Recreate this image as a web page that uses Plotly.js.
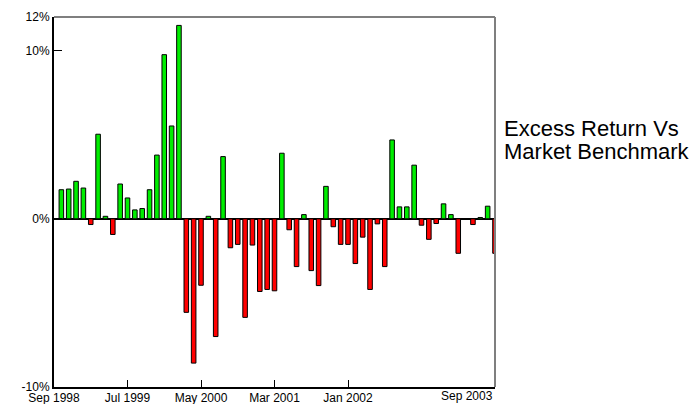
<!DOCTYPE html>
<html>
<head>
<meta charset="utf-8">
<script src="https://cdn.plot.ly/plotly-3.0.1.min.js"></script>
<style>html,body{margin:0;padding:0;background:#fff;}#chart{width:692px;height:404px;}</style>
</head>
<body>
<div id="chart"></div>
<script>
// Monthly excess return (%) — Sep 1998 .. Aug 2003
const excessReturn = [
  1.73, 1.77, 2.23, 1.83, -0.34, 5.03, 0.15, -0.93, 2.07, 1.24,
  0.53, 0.61, 1.73, 3.79, 9.76, 5.52, 11.5, -5.56, -8.58, -3.95,
  0.15, -7.0, 3.7, -1.72, -1.52, -5.86, -1.56, -4.32, -4.2, -4.28,
  3.9, -0.65, -2.84, 0.25, -3.08, -3.97, 1.93, -0.47, -1.52, -1.52,
  -2.66, -1.09, -4.2, -0.3, -2.84, 4.69, 0.71, 0.71, 3.19, -0.38,
  -1.22, -0.28, 0.89, 0.25, -2.05, 0, -0.34, 0.08, 0.75, -2.05
];
const tickMonths = [0, 10, 20, 30, 40, 60];
const tickLabels = ['Sep 1998', 'Jul 1999', 'May 2000', 'Mar 2001', 'Jan 2002', 'Sep 2003'];
const yTickVals = [-10, 0, 10, 12];
const yTickLabels = ['-10%', '0%', '10%', '12%'];
const titleLines = ['Excess Return Vs', 'Market Benchmark'];

const xs = excessReturn.map((v, i) => i + 1);
const colors = excessReturn.map(v => v >= 0 ? '#00ee00' : '#ff0000');

const trace = {
  type: 'bar', x: xs, y: excessReturn, width: 0.62,
  marker: {color: colors, line: {color: '#000', width: 1}},
  hoverinfo: 'x+y'
};

const font = {family: 'Liberation Sans, Arial, sans-serif', size: 12, color: '#000'};
const last = tickLabels.length - 1;

const layout = {
  width: 692, height: 404,
  margin: {l: 54, r: 197, t: 17, b: 17},
  paper_bgcolor: '#fff', plot_bgcolor: '#fff',
  font: font, showlegend: false, bargap: 0,
  xaxis: {
    range: [0, 60], tickmode: 'array', tickvals: tickMonths,
    ticktext: tickLabels.map((t, i) => i === last ? '' : t),
    ticks: 'inside', ticklen: 7, tickcolor: '#000', tickwidth: 1,
    ticklabelstandoff: -1,
    showgrid: false, zeroline: false, showline: true, linecolor: '#000', linewidth: 2,
    tickfont: font
  },
  yaxis: {
    range: [-10, 12], tickmode: 'array', tickvals: yTickVals, ticktext: yTickLabels,
    ticks: 'inside', ticklen: 8, tickcolor: '#000', tickwidth: 1,
    ticklabelstandoff: 0,
    showgrid: false, zeroline: true, zerolinecolor: '#000', zerolinewidth: 2,
    showline: true, linecolor: '#000', linewidth: 2, tickfont: font
  },
  shapes: [
    {type: 'line', xref: 'paper', yref: 'paper', x0: 0, x1: 1, y0: 1, y1: 1, line: {color: '#7f7f7f', width: 2}},
    {type: 'line', xref: 'paper', yref: 'paper', x0: 1, x1: 1, y0: 0, y1: 1, line: {color: '#7f7f7f', width: 2}}
  ],
  annotations: [
    {xref: 'x', yref: 'paper', x: tickMonths[last], y: 0, yshift: 0, xanchor: 'right', yanchor: 'top',
     text: tickLabels[last], showarrow: false, font: font},
    {xref: 'paper', yref: 'paper', x: 1.016, y: 0.70, xanchor: 'left', yanchor: 'middle', height: 22,
     text: titleLines[0], showarrow: false, font: {family: font.family, size: 22, color: '#000'}},
    {xref: 'paper', yref: 'paper', x: 1.016, y: 0.637, xanchor: 'left', yanchor: 'middle', height: 22,
     text: titleLines[1], showarrow: false, font: {family: font.family, size: 22, color: '#000'}}
  ]
};

Plotly.newPlot('chart', [trace], layout, {displayModeBar: false, staticPlot: true});
</script>
</body>
</html>
